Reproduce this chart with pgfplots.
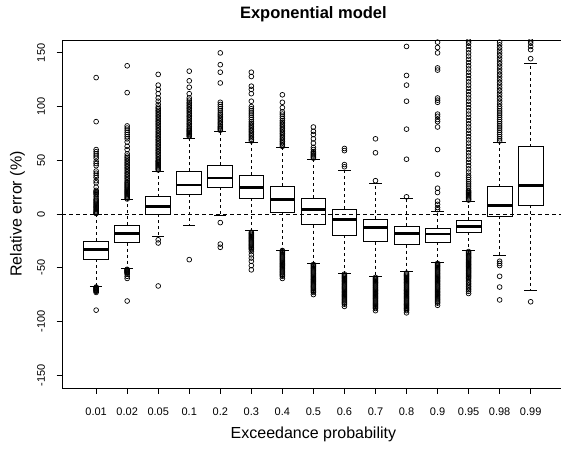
\documentclass[border=0pt]{standalone}
\usepackage{pgfplots}
\pgfplotsset{compat=1.18}
\usepgfplotslibrary{statistics}
\usepackage{fontspec}
\setmainfont{Liberation Sans}
\begin{document}
\begin{tikzpicture}
\pgfplotsset{
  rbox/.style={black, solid, line width=0.8pt, mark=o, mark size=2.4pt,
    mark options={solid, line width=0.7pt},
    boxplot/draw direction=y, boxplot/box extend=0.8, boxplot/whisker extend=0.4,
    boxplot/every median/.style={line width=2.6pt},
    boxplot/draw/lower whisker/.code={%
      \draw[dash pattern=on 3pt off 3pt] (boxplot box cs:\pgfplotsboxplotvalue{lower quartile},0.5) -- (boxplot box cs:\pgfplotsboxplotvalue{lower whisker},0.5);
      \draw (boxplot whisker cs:\pgfplotsboxplotvalue{lower whisker},0) -- (boxplot whisker cs:\pgfplotsboxplotvalue{lower whisker},1);
    },
    boxplot/draw/upper whisker/.code={%
      \draw[dash pattern=on 3pt off 3pt] (boxplot box cs:\pgfplotsboxplotvalue{upper quartile},0.5) -- (boxplot box cs:\pgfplotsboxplotvalue{upper whisker},0.5);
      \draw (boxplot whisker cs:\pgfplotsboxplotvalue{upper whisker},0) -- (boxplot whisker cs:\pgfplotsboxplotvalue{upper whisker},1);
    },
  },
}
\begin{axis}[name=ax, scale only axis, width=502.8pt, height=348pt,
  xmin=-0.1, xmax=16.1, ymin=-162, ymax=162,
  axis line style={line width=0.8pt},
  tick align=outside, major tick length=5.5pt,
  tick style={black, line width=0.8pt},
  xtick pos=left, ytick pos=left,
  xtick={1,...,15},
  xticklabels={0.01,0.02,0.05,0.1,0.2,0.3,0.4,0.5,0.6,0.7,0.8,0.9,0.95,0.98,0.99},
  ytick={-150,-100,-50,0,50,100,150},
  /pgf/number format/assume math mode=true,
  ticklabel style={font=\fontsize{11}{13}\selectfont},
  xticklabel style={yshift=-10.5pt},
  yticklabel style={rotate=90, anchor=south, yshift=8pt},
  clip marker paths=true,
  title={Exponential model},
  title style={font=\bfseries\fontsize{16.5}{19}\selectfont, at={(axis description cs:0.5,1.0747)}, anchor=center, yshift=-6pt},
  xlabel={Exceedance probability},
  xlabel style={font=\fontsize{16}{19}\selectfont, at={(axis description cs:0.5,-0.1322)}, anchor=center},
  ylabel={Relative error (\%)},
  ylabel style={font=\fontsize{16}{19}\selectfont, at={(axis description cs:-0.0885,0.5)}, anchor=center},
]
\addplot[black, line width=0.7pt, dash pattern=on 4pt off 3pt] coordinates {(-0.1,0) (16.1,0)};

\addplot[rbox, boxplot prepared={draw position=1, lower whisker=-67, lower quartile=-41.9, median=-33, upper quartile=-25.1, upper whisker=0}]
 table[row sep=\\, y=v] {v\\ 0.5\\ 1\\ 1.5\\ 2\\ 3\\ 4\\ 5\\ 6\\ 7\\ 8\\ 9\\ 10\\ 11\\ 12\\ 13\\ 14\\ 16\\ 18\\ 19\\ 20\\ 21\\ 22\\ 25\\ 29\\ 31\\ 34\\ 36\\ 38\\ 40\\ 45\\ 47\\ 49\\ 52\\ 54\\ 56\\ 58\\ 60\\ 86\\ 127\\ -68\\ -68.5\\ -69\\ -69.5\\ -70\\ -70.5\\ -71\\ -71.5\\ -72\\ -73\\ -89.5\\};

\addplot[rbox, boxplot prepared={draw position=2, lower whisker=-50.6, lower quartile=-26.7, median=-18, upper quartile=-10.4, upper whisker=13.6}]
 table[row sep=\\, y=v] {v\\ 14\\ 15\\ 16\\ 17\\ 18\\ 19\\ 20\\ 21\\ 22\\ 23\\ 24\\ 25\\ 26\\ 27\\ 28\\ 29\\ 30\\ 31.5\\ 33\\ 34.5\\ 36\\ 37.5\\ 39\\ 40.5\\ 42\\ 43.5\\ 45\\ 46.5\\ 48\\ 49.5\\ 51\\ 52.5\\ 54\\ 56\\ 60\\ 63\\ 67\\ 70\\ 72\\ 74\\ 76\\ 78\\ 80\\ 82\\ 113\\ 138\\ -51.5\\ -52\\ -52.5\\ -53\\ -53.5\\ -54\\ -54.5\\ -55\\ -56\\ -58\\ -60\\ -81\\};

\addplot[rbox, boxplot prepared={draw position=3, lower whisker=-21.1, lower quartile=0, median=6.8, upper quartile=16.1, upper whisker=39.5}]
 table[row sep=\\, y=v] {v\\ 41\\ 42\\ 43\\ 44\\ 45\\ 46\\ 47\\ 48\\ 49\\ 50\\ 51.5\\ 53\\ 54.5\\ 56\\ 57.5\\ 59\\ 60.5\\ 62\\ 63.5\\ 65\\ 66.5\\ 68\\ 69.5\\ 71\\ 72.5\\ 74\\ 75.5\\ 77\\ 78.5\\ 80\\ 81.5\\ 83\\ 84.5\\ 86\\ 87.5\\ 89\\ 90.5\\ 92\\ 93.5\\ 95\\ 96.5\\ 98\\ 99.5\\ 102\\ 105\\ 108\\ 112\\ 116\\ 120\\ 130\\ -24\\ -27\\ -67\\};

\addplot[rbox, boxplot prepared={draw position=4, lower whisker=-10.3, lower quartile=18.6, median=27, upper quartile=39.7, upper whisker=70.8}]
 table[row sep=\\, y=v] {v\\ 72\\ 73\\ 74\\ 75\\ 76\\ 77\\ 78\\ 79\\ 80\\ 81.5\\ 83\\ 84.5\\ 86\\ 87.5\\ 89\\ 90.5\\ 92\\ 93.5\\ 95\\ 96.5\\ 98\\ 99.5\\ 101\\ 102.5\\ 104\\ 106\\ 108\\ 112\\ 118\\ 124\\ 133\\ -42.5\\};

\addplot[rbox, boxplot prepared={draw position=5, lower whisker=-1, lower quartile=24.8, median=33.5, upper quartile=45.3, upper whisker=76.6}]
 table[row sep=\\, y=v] {v\\ 78\\ 79\\ 80\\ 81\\ 82\\ 83.5\\ 85\\ 86.5\\ 88\\ 89.5\\ 91\\ 92.5\\ 94\\ 96\\ 98\\ 100\\ 102\\ 104\\ 122\\ 132\\ 139\\ 150\\ -8\\ -28\\ -31\\};

\addplot[rbox, boxplot prepared={draw position=6, lower whisker=-15.6, lower quartile=14.5, median=24.8, upper quartile=36.3, upper whisker=66.7}]
 table[row sep=\\, y=v] {v\\ 68\\ 69.5\\ 71\\ 72.5\\ 74\\ 75.5\\ 77\\ 78.5\\ 80\\ 81.5\\ 83\\ 84.5\\ 86\\ 88\\ 90\\ 92\\ 94\\ 96\\ 98\\ 100\\ 105\\ 112\\ 116\\ 119\\ 128\\ 132\\ -17\\ -18\\ -19\\ -20\\ -21\\ -22\\ -23\\ -24\\ -25\\ -26\\ -27\\ -28\\ -29\\ -30\\ -31\\ -32\\ -33\\ -35\\ -38\\ -41\\ -44\\ -48\\ -52\\};

\addplot[rbox, boxplot prepared={draw position=7, lower whisker=-33.5, lower quartile=1.5, median=13.6, upper quartile=26, upper whisker=62}]
 table[row sep=\\, y=v] {v\\ 63\\ 64.5\\ 66\\ 67.5\\ 69\\ 70.5\\ 72\\ 73.5\\ 75\\ 76.5\\ 78\\ 79.5\\ 81\\ 82.5\\ 84\\ 85.5\\ 87\\ 89\\ 91\\ 93\\ 95\\ 99\\ 104\\ 111\\ -34\\ -35\\ -36\\ -37\\ -38\\ -39\\ -40\\ -41\\ -42\\ -43\\ -44\\ -45\\ -46\\ -47\\ -48\\ -49\\ -50\\ -51\\ -52\\ -53\\ -54\\ -55\\ -56\\ -57\\ -58\\ -60\\};

\addplot[rbox, boxplot prepared={draw position=8, lower whisker=-46, lower quartile=-10, median=4, upper quartile=14.9, upper whisker=51.2}]
 table[row sep=\\, y=v] {v\\ 52\\ 53\\ 54\\ 55\\ 56\\ 57\\ 58\\ 60\\ 62\\ 66\\ 70\\ 74\\ 77\\ 81\\ -47\\ -48\\ -49\\ -50\\ -51\\ -52\\ -53\\ -54\\ -55\\ -56\\ -57\\ -58\\ -59\\ -60\\ -61\\ -62\\ -63\\ -64\\ -65\\ -66\\ -67\\ -68\\ -69\\ -70\\ -71\\ -72\\ -73\\ -75\\};

\addplot[rbox, boxplot prepared={draw position=9, lower whisker=-55.3, lower quartile=-19.6, median=-5.3, upper quartile=4.6, upper whisker=40.3}]
 table[row sep=\\, y=v] {v\\ 44\\ 46\\ 59\\ 61\\ -56\\ -57\\ -58\\ -59\\ -60\\ -61\\ -62\\ -63\\ -64\\ -65\\ -66\\ -67\\ -68\\ -69\\ -70\\ -71\\ -72\\ -73\\ -74\\ -75\\ -76\\ -77\\ -78\\ -79\\ -80\\ -81\\ -82\\ -83\\ -84\\ -86\\};

\addplot[rbox, boxplot prepared={draw position=10, lower whisker=-58.4, lower quartile=-25.8, median=-12.4, upper quartile=-4.7, upper whisker=28.5}]
 table[row sep=\\, y=v] {v\\ 31\\ 57\\ 70\\ -59\\ -60\\ -61\\ -62\\ -63\\ -64\\ -65\\ -66\\ -67\\ -68\\ -69\\ -70\\ -71\\ -72\\ -73\\ -74\\ -75\\ -76\\ -77\\ -78\\ -79\\ -80\\ -81\\ -82\\ -83\\ -84\\ -85\\ -86\\ -87\\ -88\\ -90\\};

\addplot[rbox, boxplot prepared={draw position=11, lower whisker=-53.7, lower quartile=-28.6, median=-18, upper quartile=-11.5, upper whisker=14.9}]
 table[row sep=\\, y=v] {v\\ 16\\ 51\\ 79\\ 105\\ 120\\ 129\\ 156\\ -55\\ -56\\ -57\\ -58\\ -59\\ -60\\ -61\\ -62\\ -63\\ -64\\ -65\\ -66\\ -67\\ -68\\ -69\\ -70\\ -71\\ -72\\ -73\\ -74\\ -75\\ -76\\ -77\\ -78\\ -79\\ -80\\ -81\\ -82\\ -83\\ -84\\ -85\\ -86\\ -87\\ -88\\ -89\\ -90\\ -92\\};

\addplot[rbox, boxplot prepared={draw position=12, lower whisker=-45.3, lower quartile=-26.1, median=-18.6, upper quartile=-13, upper whisker=2.8}]
 table[row sep=\\, y=v] {v\\ 4\\ 6\\ 9\\ 12\\ 20\\ 24\\ 37\\ 60\\ 81\\ 86\\ 88\\ 91\\ 93\\ 104\\ 106\\ 108\\ 134\\ 136\\ 150\\ 155\\ 160\\ -46\\ -47\\ -48\\ -49\\ -50\\ -51\\ -52\\ -53\\ -54\\ -55\\ -56\\ -57\\ -58\\ -59\\ -60\\ -61\\ -62\\ -63\\ -64\\ -65\\ -66\\ -67\\ -68\\ -69\\ -70\\ -71\\ -72\\ -73\\ -74\\ -75\\ -76\\ -77\\ -78\\ -79\\ -80\\ -81\\ -82\\ -83\\ -85\\};

\addplot[rbox, boxplot prepared={draw position=13, lower whisker=-34.2, lower quartile=-17.1, median=-11.5, upper quartile=-5.6, upper whisker=11.7}]
 table[row sep=\\, y=v] {v\\ 13\\ 14\\ 15\\ 16\\ 17\\ 18\\ 19\\ 20\\ 21\\ 22\\ 24\\ 26\\ 28\\ 30\\ 32\\ 34\\ 36\\ 39\\ 42\\ 45\\ 48\\ 51\\ 54\\ 57\\ 60\\ 63\\ 66\\ 69\\ 72\\ 75\\ 78\\ 81\\ 84\\ 87\\ 90\\ 93\\ 96\\ 99\\ 102\\ 105\\ 108\\ 111\\ 114\\ 117\\ 120\\ 123\\ 126\\ 129\\ 132\\ 135\\ 138\\ 141\\ 144\\ 147\\ 150\\ 153\\ 156\\ 159\\ 161\\ -35\\ -36\\ -37\\ -38\\ -39\\ -40\\ -41\\ -42\\ -43\\ -44\\ -45\\ -46\\ -47\\ -48\\ -49\\ -50\\ -51\\ -52\\ -53\\ -54\\ -55\\ -56\\ -57\\ -58\\ -59\\ -60\\ -61.5\\ -63\\ -64.5\\ -66\\ -67.5\\ -69\\ -70.5\\ -72\\ -74\\};

\addplot[rbox, boxplot prepared={draw position=14, lower whisker=-38.5, lower quartile=-1.9, median=7.7, upper quartile=25.4, upper whisker=66.7}]
 table[row sep=\\, y=v] {v\\ 68\\ 70\\ 72\\ 74\\ 76\\ 78\\ 80\\ 82\\ 84\\ 86\\ 88\\ 90\\ 92\\ 94\\ 96\\ 98\\ 100\\ 102.5\\ 105\\ 107.5\\ 110\\ 112.5\\ 115\\ 117.5\\ 120\\ 122.5\\ 125\\ 127.5\\ 130\\ 132.5\\ 135\\ 137.5\\ 140\\ 142.5\\ 145\\ 147.5\\ 150\\ 152.5\\ 155\\ 157.5\\ 160\\ -44\\ -46\\ -48\\ -58\\ -68\\ -80\\};

\addplot[rbox, boxplot prepared={draw position=15, lower whisker=-71.4, lower quartile=8.4, median=26.4, upper quartile=62.7, upper whisker=140.6}]
 table[row sep=\\, y=v] {v\\ 144.6\\ 153\\ 156\\ 159\\ 161\\ -81.7\\};
\end{axis}
\pgfresetboundingbox
\path[use as bounding box] (ax.south west) ++(-62pt,-60pt) rectangle ++(561pt,448pt);
\end{tikzpicture}
\end{document}
